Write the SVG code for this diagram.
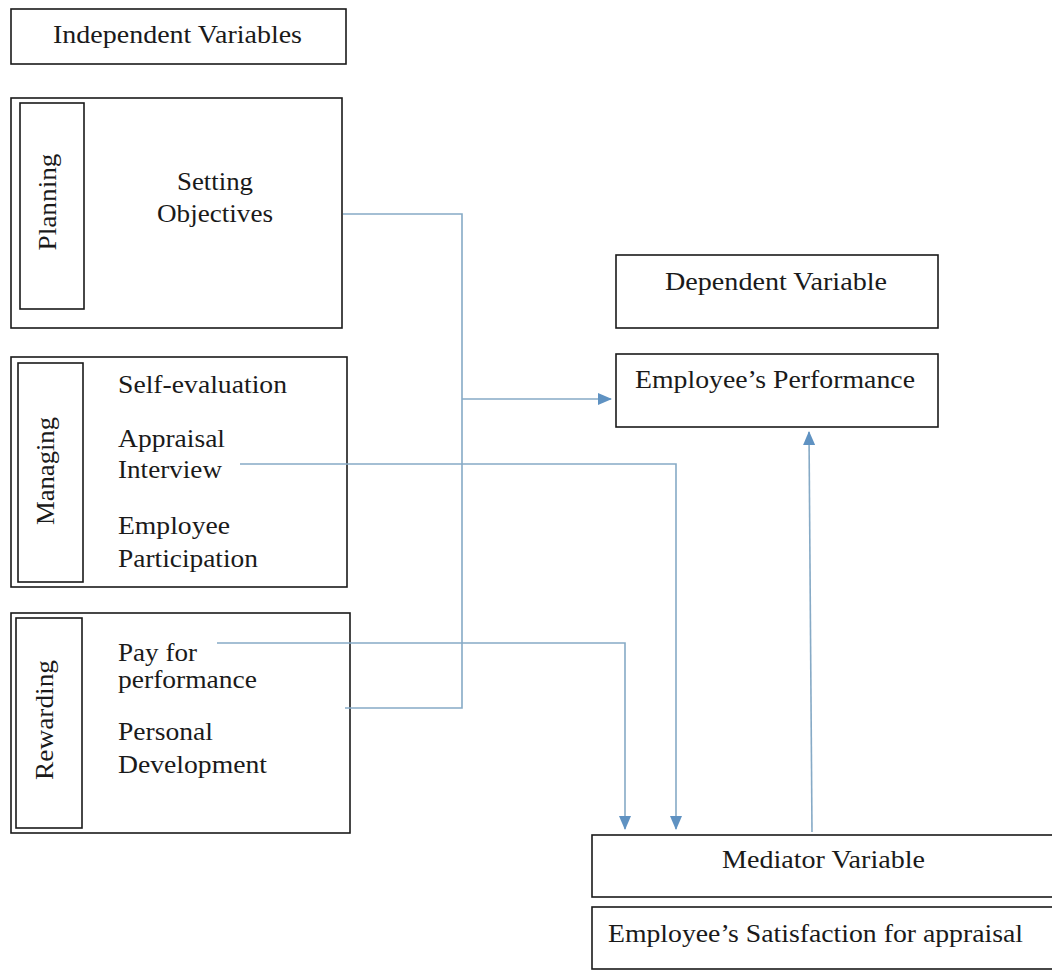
<svg xmlns="http://www.w3.org/2000/svg" width="1052" height="970" viewBox="0 0 1052 970">
<style>
.box{fill:#fff;stroke:#1a1a1a;stroke-width:1.6}
.t{font-family:"Liberation Serif","Times New Roman",serif;font-size:24.5px;fill:#1a1a1a}
.c{fill:none;stroke:#86aac6;stroke-width:1.6}
</style>
<defs>
<marker id="ah" markerUnits="userSpaceOnUse" markerWidth="14" markerHeight="12" refX="13" refY="6" orient="auto">
<path d="M0,0 L14,6 L0,12 Z" fill="#5f92c2"/>
</marker>
</defs>
<rect width="1052" height="970" fill="#fff"/>

<g id="independent">
<rect class="box" x="11" y="9" width="335" height="55"/>
<text class="t" x="53" y="43" textLength="249" lengthAdjust="spacingAndGlyphs">Independent Variables</text>
</g>

<g id="planning">
<rect class="box" x="11" y="98" width="331" height="230"/>
<rect class="box" x="20" y="103" width="64" height="206"/>
<text class="t" text-anchor="middle" transform="translate(56,202) rotate(-90)" textLength="97" lengthAdjust="spacingAndGlyphs">Planning</text>
<text class="t" x="177" y="190" textLength="76" lengthAdjust="spacingAndGlyphs">Setting</text>
<text class="t" x="157" y="222" textLength="116" lengthAdjust="spacingAndGlyphs">Objectives</text>
</g>

<g id="managing">
<rect class="box" x="11" y="357" width="336" height="230"/>
<rect class="box" x="18" y="363" width="65" height="219"/>
<text class="t" text-anchor="middle" transform="translate(54,471) rotate(-90)" textLength="108" lengthAdjust="spacingAndGlyphs">Managing</text>
<text class="t" x="118" y="393" textLength="169" lengthAdjust="spacingAndGlyphs">Self-evaluation</text>
<text class="t" x="118" y="447" textLength="107" lengthAdjust="spacingAndGlyphs">Appraisal</text>
<text class="t" x="118" y="478" textLength="104" lengthAdjust="spacingAndGlyphs">Interview</text>
<text class="t" x="118" y="534" textLength="112" lengthAdjust="spacingAndGlyphs">Employee</text>
<text class="t" x="118" y="567" textLength="140" lengthAdjust="spacingAndGlyphs">Participation</text>
</g>

<g id="rewarding">
<rect class="box" x="11" y="613" width="339" height="220"/>
<rect class="box" x="16" y="618" width="66" height="210"/>
<text class="t" text-anchor="middle" transform="translate(53,720) rotate(-90)" textLength="120" lengthAdjust="spacingAndGlyphs">Rewarding</text>
<text class="t" x="118" y="661" textLength="79" lengthAdjust="spacingAndGlyphs">Pay for</text>
<text class="t" x="118" y="688" textLength="139" lengthAdjust="spacingAndGlyphs">performance</text>
<text class="t" x="118" y="740" textLength="95" lengthAdjust="spacingAndGlyphs">Personal</text>
<text class="t" x="118" y="773" textLength="149" lengthAdjust="spacingAndGlyphs">Development</text>
</g>

<g id="dependent">
<rect class="box" x="616" y="255" width="322" height="73"/>
<text class="t" x="665" y="290" textLength="222" lengthAdjust="spacingAndGlyphs">Dependent Variable</text>
</g>

<g id="performance">
<rect class="box" x="616" y="354" width="322" height="73"/>
<text class="t" x="635" y="388" textLength="280" lengthAdjust="spacingAndGlyphs">Employee’s Performance</text>
</g>

<g id="mediator">
<rect class="box" x="592" y="835" width="470" height="62"/>
<text class="t" x="722" y="868" textLength="203" lengthAdjust="spacingAndGlyphs">Mediator Variable</text>
</g>

<g id="satisfaction">
<rect class="box" x="592" y="907" width="470" height="62"/>
<text class="t" x="608" y="942" textLength="415" lengthAdjust="spacingAndGlyphs">Employee’s Satisfaction for appraisal</text>
</g>

<g id="connectors">
<path class="c" d="M343,214 H462 V708 H345"/>
<path class="c" d="M462,399 H611" marker-end="url(#ah)"/>
<path class="c" d="M240,464 H676 V829" marker-end="url(#ah)"/>
<path class="c" d="M217,643 H625 V829" marker-end="url(#ah)"/>
<path class="c" d="M812,832 L809,432" marker-end="url(#ah)"/>
</g>
</svg>
